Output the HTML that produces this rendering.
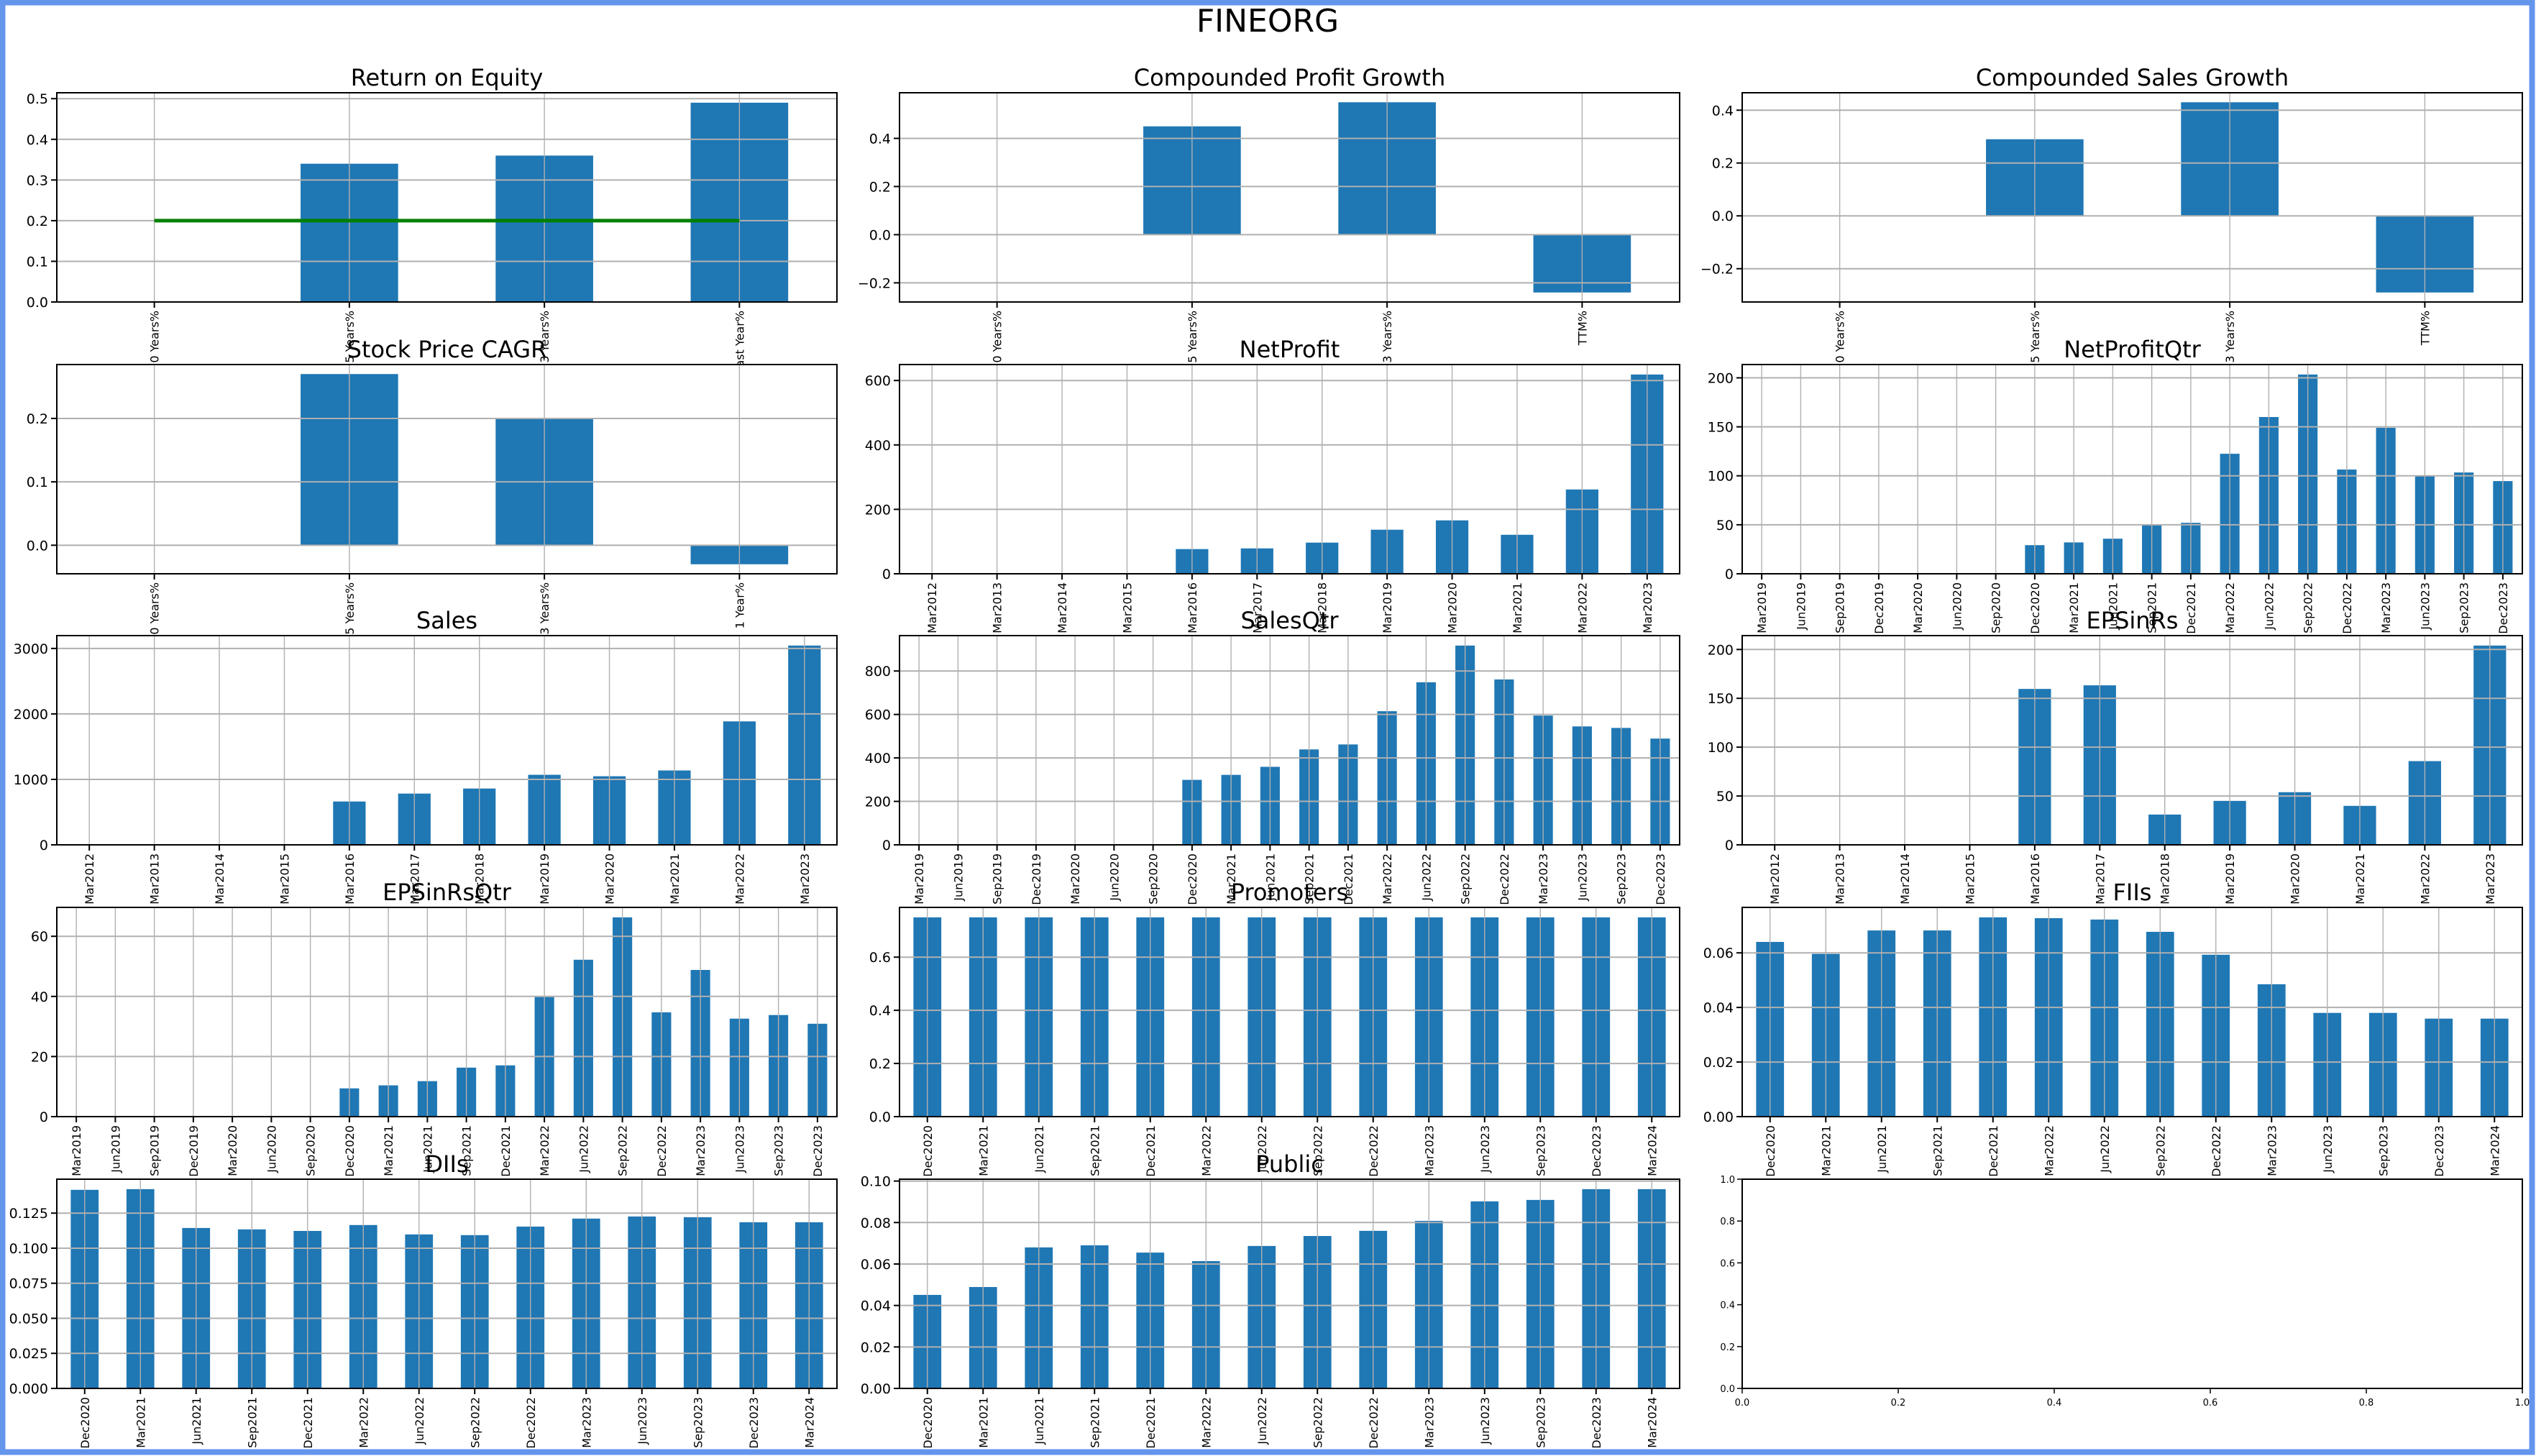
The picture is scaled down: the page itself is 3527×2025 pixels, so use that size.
<!DOCTYPE html>
<html>
<head>
<meta charset="utf-8">
<style>
  html, body { margin: 0; padding: 0; background: #ffffff; }
  #chart { display: block; }
  text { font-family: "DejaVu Sans", "Liberation Sans", sans-serif; fill: #000; }
</style>
</head>
<body>
<svg id="chart" width="3527" height="2025" viewBox="0 0 3527 2025" xmlns="http://www.w3.org/2000/svg">
  <rect x="0" y="0" width="3527" height="2025" fill="#ffffff"/>
  <text x="1763" y="44" font-size="44" text-anchor="middle">FINEORG</text>
  <g id="panels"></g>
  <rect x="3.5" y="3.5" width="3518" height="2016" fill="none" stroke="#6495ED" stroke-width="8"/>
</svg>
<script>
// ---- data ----
const growthCats4 = ["10 Years%", "5 Years%", "3 Years%", "TTM%"];
const roeCats = ["10 Years%", "5 Years%", "3 Years%", "Last Year%"];
const roeVals = [null, 0.34, 0.36, 0.49];
const roeTarget = [0.2, 0.2, 0.2, 0.2];
const roeTicks = [0, 0.1, 0.2, 0.3, 0.4, 0.5];
const roeTickLabels = ["0.0", "0.1", "0.2", "0.3", "0.4", "0.5"];

const profitGrowthVals = [null, 0.45, 0.55, -0.24];
const profitGrowthTicks = [-0.2, 0, 0.2, 0.4];
const profitGrowthTickLabels = ["\u22120.2", "0.0", "0.2", "0.4"];

const salesGrowthVals = [null, 0.29, 0.43, -0.29];
const salesGrowthTicks = [-0.2, 0, 0.2, 0.4];
const salesGrowthTickLabels = ["\u22120.2", "0.0", "0.2", "0.4"];

const cagrCats = ["10 Years%", "5 Years%", "3 Years%", "1 Year%"];
const cagrVals = [null, 0.27, 0.20, -0.03];
const cagrTicks = [0, 0.1, 0.2];
const cagrTickLabels = ["0.0", "0.1", "0.2"];

const yearCats = ["Mar2012","Mar2013","Mar2014","Mar2015","Mar2016","Mar2017","Mar2018","Mar2019","Mar2020","Mar2021","Mar2022","Mar2023"];
const qtrCats = ["Mar2019","Jun2019","Sep2019","Dec2019","Mar2020","Jun2020","Sep2020","Dec2020","Mar2021","Jun2021","Sep2021","Dec2021","Mar2022","Jun2022","Sep2022","Dec2022","Mar2023","Jun2023","Sep2023","Dec2023"];
const shareCats = ["Dec2020","Mar2021","Jun2021","Sep2021","Dec2021","Mar2022","Jun2022","Sep2022","Dec2022","Mar2023","Jun2023","Sep2023","Dec2023","Mar2024"];

const netProfitVals = [null, null, null, null, 76.6, 78.8, 96.7, 136.8, 165.8, 121, 261.7, 618.6];
const netProfitTicks = [0, 200, 400, 600];

const netProfitQtrVals = [null, null, null, null, null, null, null, 29.2, 32, 35.8, 50, 52, 122.5, 160, 203.4, 106.4, 149, 100, 103.4, 94.6];
const netProfitQtrTicks = [0, 50, 100, 150, 200];

const salesVals = [null, null, null, null, 662, 783, 860, 1070, 1048, 1136, 1886, 3044];
const salesTicks = [0, 1000, 2000, 3000];

const salesQtrVals = [null, null, null, null, null, null, null, 299, 322, 359, 439, 462, 615, 748, 917, 761, 595, 545, 538, 489];
const salesQtrTicks = [0, 200, 400, 600, 800];

const epsVals = [null, null, null, null, 159.6, 163.3, 31, 45, 53.9, 39.9, 85.7, 204];
const epsTicks = [0, 50, 100, 150, 200];

const epsQtrVals = [null, null, null, null, null, null, null, 9.4, 10.4, 11.8, 16.3, 17.05, 39.8, 52.2, 66.3, 34.7, 48.8, 32.6, 33.8, 30.9];
const epsQtrTicks = [0, 20, 40, 60];

const promotersVals = [0.7497, 0.7497, 0.7497, 0.7497, 0.7497, 0.7497, 0.7497, 0.7497, 0.7497, 0.7497, 0.7497, 0.7497, 0.7497, 0.7497];
const promotersTicks = [0, 0.2, 0.4, 0.6];
const promotersTickLabels = ["0.0", "0.2", "0.4", "0.6"];

const fiisVals = [0.0640, 0.0596, 0.0682, 0.0682, 0.0730, 0.0727, 0.0722, 0.0677, 0.0593, 0.0485, 0.0380, 0.0380, 0.0359, 0.0359];
const fiisTicks = [0, 0.02, 0.04, 0.06];
const fiisTickLabels = ["0.00", "0.02", "0.04", "0.06"];

const diisVals = [0.1416, 0.1421, 0.1144, 0.1134, 0.1123, 0.1165, 0.1098, 0.1093, 0.1154, 0.1211, 0.1226, 0.1221, 0.1185, 0.1185];
const diisTicks = [0, 0.025, 0.05, 0.075, 0.1, 0.125];
const diisTickLabels = ["0.000", "0.025", "0.050", "0.075", "0.100", "0.125"];

const publicVals = [0.0451, 0.0489, 0.0680, 0.0690, 0.0655, 0.0614, 0.0687, 0.0735, 0.0760, 0.0808, 0.0902, 0.0909, 0.0961, 0.0961];
const publicTicks = [0, 0.02, 0.04, 0.06, 0.08, 0.1];
const publicTickLabels = ["0.00", "0.02", "0.04", "0.06", "0.08", "0.10"];

const emptyTicks = [0, 0.2, 0.4, 0.6, 0.8, 1.0];
const emptyTickLabels = ["0.0", "0.2", "0.4", "0.6", "0.8", "1.0"];

// ---- layout ----
const colLeft = [79, 1251, 2423];
const rowTop = [129, 507, 884, 1262, 1640];
const PW = 1085, PH = 291;
const NS = "http://www.w3.org/2000/svg";
const root = document.getElementById("panels");

function mk(tag, attrs, parent) {
  const e = document.createElementNS(NS, tag);
  for (const k in attrs) e.setAttribute(k, attrs[k]);
  parent.appendChild(e);
  return e;
}
function slug(s) { return s.toLowerCase().replace(/[^a-z0-9]+/g, "-").replace(/^-|-$/g, ""); }

function drawBarPanel(col, row, title, cats, vals, ticks, tickLabels, lineVals) {
  const L = colLeft[col], T = rowTop[row];
  const g = mk("g", {}, root);
  
  
  const nums = vals.filter(v => v !== null);
  if (lineVals) lineVals.forEach(v => nums.push(v));
  let lo = Math.min(0, ...nums), hi = Math.max(0, ...nums);
  const span = hi - lo;
  if (lo < 0) lo -= 0.05 * span;
  if (hi > 0) hi += 0.05 * span;
  const n = cats.length;
  const xs = i => L + PW * (i + 0.5) / n;
  const ys = v => T + PH * (hi - v) / (hi - lo);
  const bg = mk("rect", { x: L, y: T, width: PW, height: PH, fill: "#ffffff" }, g);
  
  
  // bars
  const bw = PW / n * 0.5;
  vals.forEach((v, i) => {
    if (v === null) return;
    const y0 = ys(0), y1 = ys(v);
    const r = mk("rect", { x: xs(i) - bw / 2, y: Math.min(y0, y1), width: bw, height: Math.abs(y1 - y0), fill: "#1f77b4" }, g);
    
    
  });
  // grid
  cats.forEach((c, i) => {
    const ln = mk("line", { x1: xs(i), x2: xs(i), y1: T, y2: T + PH, stroke: "#b0b0b0", "stroke-width": 1.4 }, g);
    
    
  });
  ticks.forEach(t => {
    const ln = mk("line", { x1: L, x2: L + PW, y1: ys(t), y2: ys(t), stroke: "#b0b0b0", "stroke-width": 2 }, g);
    
    
  });
  if (lineVals) {
    const pts = lineVals.map((v, i) => xs(i) + "," + ys(v)).join(" ");
    const pl = mk("polyline", { points: pts, fill: "none", stroke: "#008000", "stroke-width": 5 }, g);
    
    
  }
  const fr = mk("rect", { x: L, y: T, width: PW, height: PH, fill: "none", stroke: "#000", "stroke-width": 2 }, g);
  
  
  // y ticks
  ticks.forEach((t, k) => {
    mk("line", { x1: L - 8, x2: L, y1: ys(t), y2: ys(t), stroke: "#000", "stroke-width": 2 }, g);
    const tx = mk("text", { x: L - 12, y: ys(t) + 7, "font-size": 19, "text-anchor": "end" }, g);
    tx.textContent = tickLabels ? tickLabels[k] : String(t);
    
    
  });
  // x ticks
  cats.forEach((c, i) => {
    const x = xs(i), yb = T + PH;
    mk("line", { x1: x, x2: x, y1: yb, y2: yb + 8, stroke: "#000", "stroke-width": 2 }, g);
    const tx = mk("text", { x: 0, y: 0, "font-size": 16, "text-anchor": "end", transform: "translate(" + (x + 6) + "," + (yb + 12) + ") rotate(-90)" }, g);
    tx.textContent = c;
    
    
  });
  const tt = mk("text", { x: L + PW / 2, y: T - 10, "font-size": 32, "text-anchor": "middle" }, g);
  tt.textContent = title;
  
  
}

function drawEmptyPanel(col, row) {
  const L = colLeft[col], T = rowTop[row];
  const g = mk("g", {}, root);
  
  
  mk("rect", { x: L, y: T, width: PW, height: PH, fill: "#ffffff", stroke: "#000", "stroke-width": 2 }, g);
  emptyTicks.forEach((t, k) => {
    const y = T + PH * (1 - t), x = L + PW * t;
    mk("line", { x1: L - 7, x2: L, y1: y, y2: y, stroke: "#000", "stroke-width": 1.5 }, g);
    const ty = mk("text", { x: L - 10, y: y + 5, "font-size": 13, "text-anchor": "end" }, g);
    ty.textContent = emptyTickLabels[k];
    
    
    mk("line", { x1: x, x2: x, y1: T + PH, y2: T + PH + 7, stroke: "#000", "stroke-width": 1.5 }, g);
    const txl = mk("text", { x: x, y: T + PH + 24, "font-size": 13, "text-anchor": "middle" }, g);
    txl.textContent = emptyTickLabels[k];
    
    
  });
}

drawBarPanel(0, 0, "Return on Equity", roeCats, roeVals, roeTicks, roeTickLabels, roeTarget);
drawBarPanel(1, 0, "Compounded Profit Growth", growthCats4, profitGrowthVals, profitGrowthTicks, profitGrowthTickLabels);
drawBarPanel(2, 0, "Compounded Sales Growth", growthCats4, salesGrowthVals, salesGrowthTicks, salesGrowthTickLabels);
drawBarPanel(0, 1, "Stock Price CAGR", cagrCats, cagrVals, cagrTicks, cagrTickLabels);
drawBarPanel(1, 1, "NetProfit", yearCats, netProfitVals, netProfitTicks);
drawBarPanel(2, 1, "NetProfitQtr", qtrCats, netProfitQtrVals, netProfitQtrTicks);
drawBarPanel(0, 2, "Sales", yearCats, salesVals, salesTicks);
drawBarPanel(1, 2, "SalesQtr", qtrCats, salesQtrVals, salesQtrTicks);
drawBarPanel(2, 2, "EPSinRs", yearCats, epsVals, epsTicks);
drawBarPanel(0, 3, "EPSinRsQtr", qtrCats, epsQtrVals, epsQtrTicks);
drawBarPanel(1, 3, "Promoters", shareCats, promotersVals, promotersTicks, promotersTickLabels);
drawBarPanel(2, 3, "FIIs", shareCats, fiisVals, fiisTicks, fiisTickLabels);
drawBarPanel(0, 4, "DIIs", shareCats, diisVals, diisTicks, diisTickLabels);
drawBarPanel(1, 4, "Public", shareCats, publicVals, publicTicks, publicTickLabels);
drawEmptyPanel(2, 4);
</script>
</body>
</html>
